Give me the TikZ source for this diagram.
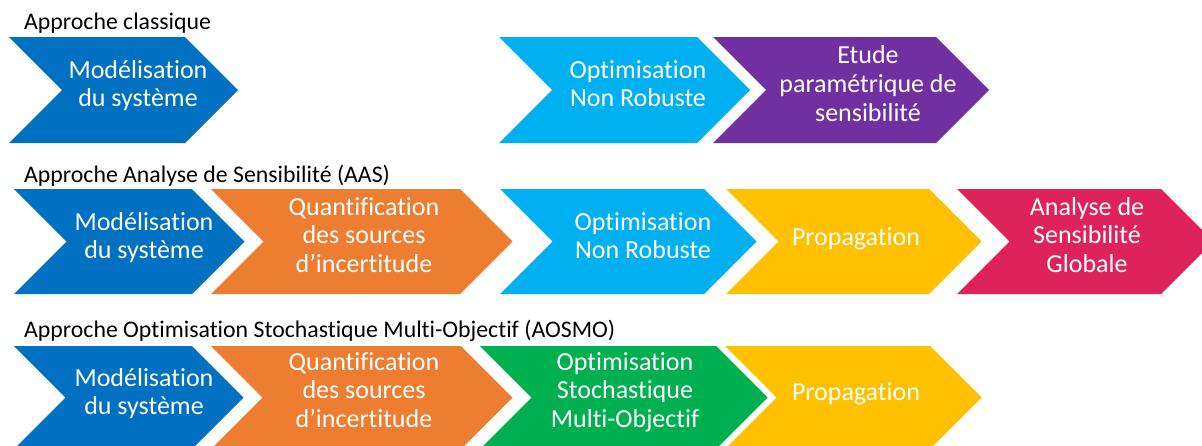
\documentclass[tikz,border=0pt]{standalone}
\usepackage{fontspec}
\setmainfont{Carlito}[Ligatures={NoCommon,NoContextual}]
\definecolor{cBlue}{HTML}{0070C0}
\definecolor{cOrange}{HTML}{ED7D31}
\definecolor{cCyan}{HTML}{00B0F0}
\definecolor{cYellow}{HTML}{FFC000}
\definecolor{cRed}{HTML}{DE235A}
\definecolor{cPurple}{HTML}{7030A0}
\definecolor{cGreen}{HTML}{00B050}
% #1 colour, #2 left x, #3 shoulder x, #4 top y, #5 bottom y
\newcommand\chevshape[5]{%
  \fill[#1] (#2,#4) -- (#3,#4) -- ({#3+(#5-#4)/2},{(#4+#5)/2}) -- (#3,#5) -- (#2,#5)
     -- ({#2+(#5-#4)/2},{(#4+#5)/2}) -- cycle;}
\newcommand\lbl[1]{\begin{tabular}[t]{@{}c@{}}#1\end{tabular}}
\begin{document}
\begin{tikzpicture}[x=1pt,y=-1pt,
  header/.style={anchor=base west,inner sep=0pt,font=\fontsize{23.8}{28}\selectfont,text=black},
  steplabel/.style={anchor=base,inner sep=0pt,text=white,font=\fontsize{26}{28.8}\selectfont}]
\useasboundingbox (0,0) rectangle (1202,445);
\clip (0,0) rectangle (1202,445);
% Row 1
\chevshape{cBlue}{9}{185}{37}{143}
\chevshape{cCyan}{499}{697}{37}{143}
\chevshape{cPurple}{713}{936}{37}{143}
% Row 2
\chevshape{cBlue}{14}{192}{189}{294}
\chevshape{cOrange}{211}{460}{189}{294}
\chevshape{cCyan}{500}{704}{189}{294}
\chevshape{cYellow}{726}{929}{189}{294}
\chevshape{cRed}{957}{1161}{189}{294}
% Row 3
\chevshape{cBlue}{14}{192}{346}{449}
\chevshape{cOrange}{211}{461}{346}{449}
\chevshape{cGreen}{480}{716}{346}{449}
\chevshape{cYellow}{725}{930}{346}{449}
% Headers
\node[header] (h1) at (24,29) {Approche classique};
\node[header] (h2) at (24,182) {Approche Analyse de Sensibilité (AAS)};
\node[header] (h3) at (24,337) {Approche Optimisation Stochastique Multi-Objectif (AOSMO)};
% Row 1 labels
\node[steplabel] (a1) at (138,78) {\lbl{Modélisation\\du système}};
\node[steplabel] (a2) at (638,78) {\lbl{Optimisation\\Non Robuste}};
\node[steplabel] (a3) at (868,63.5) {\lbl{Etude\\paramétrique de\\sensibilité}};
% Row 2 labels
\node[steplabel] (b1) at (144,230) {\lbl{Modélisation\\du système}};
\node[steplabel] (b2) at (364,215) {\lbl{Quantification\\des sources\\d’incertitude}};
\node[steplabel] (b3) at (643,230) {\lbl{Optimisation\\Non Robuste}};
\node[steplabel] (b4) at (856,245) {Propagation};
\node[steplabel] (b5) at (1087,215) {\lbl{Analyse de\\Sensibilité\\Globale}};
% Row 3 labels
\node[steplabel] (c1) at (144,386) {\lbl{Modélisation\\du système}};
\node[steplabel] (c2) at (364,370) {\lbl{Quantification\\des sources\\d’incertitude}};
\node[steplabel] (c3) at (625,370) {\lbl{Optimisation\\Stochastique\\Multi-Objectif}};
\node[steplabel] (c4) at (856,400) {Propagation};
\end{tikzpicture}
\end{document}
